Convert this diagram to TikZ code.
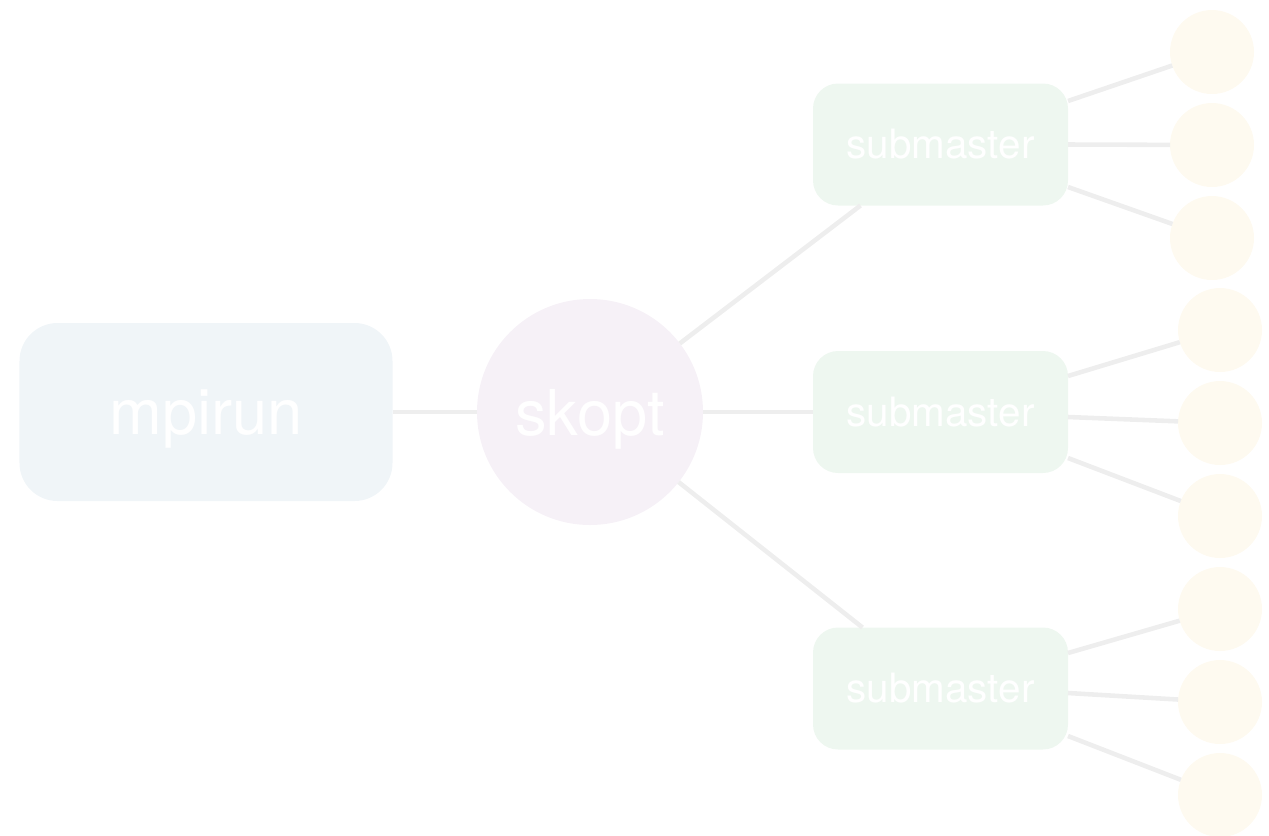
\documentclass[tikz,border=0pt]{standalone}
\usepackage{fontspec}
\setmainfont{TeX Gyre Heros}
\usepackage{tikz}
\usetikzlibrary{positioning}
\definecolor{linkgray}{HTML}{EEEEEE}
\definecolor{runblue}{HTML}{F0F5F8}
\definecolor{optpink}{HTML}{F6F1F7}
\definecolor{subgreen}{HTML}{EEF7F0}
\definecolor{workcream}{HTML}{FEFAF0}
\tikzset{
% Define standard link line
link/.style={draw=linkgray, line width=2.6pt},
subbox/.style={rectangle, fill=subgreen, rounded corners=0.5cm,
  minimum width=5.1cm, minimum height=2.44cm, text=white,
  font=\fontsize{23}{26}\selectfont},
worker/.style={circle, fill=workcream, minimum size=1.68cm}
}

\begin{document}
\begin{tikzpicture}[inner sep=0, outer sep=0]
  \useasboundingbox (0, 0) rectangle (25.38, -16.7);

  \node[rectangle,
    rounded corners=0.76cm,
    minimum height = 3.56cm,
    minimum width = 7.46cm,
    text=white, text depth=0pt,
    font=\fontsize{36}{40}\selectfont,
    fill = runblue] (mpirun) at (4.12, -8.24) {mpirun};

  \node[circle,
    minimum size = 4.52cm,
    text=white, text depth=0pt,
    font=\fontsize{36}{40}\selectfont,
    fill = optpink] (skopt) at ([xshift=7.68cm]mpirun.center) {skopt};

  \node[subbox] (sub1) at (18.81, -2.89) {submaster};
  \node[subbox] (sub2) at ([xshift=7.01cm]skopt.center) {submaster};
  \node[subbox] (sub3) at (18.81, -13.77) {submaster};

  \node[worker] (w11) at (24.24, -1.04) {};
  \node[worker] (w12) at (24.24, -2.90) {};
  \node[worker] (w13) at (24.24, -4.76) {};

  \node[worker] (w21) at (24.4, -6.6) {};
  \node[worker] (w22) at (24.4, -8.46) {};
  \node[worker] (w23) at (24.4, -10.32) {};

  \node[worker] (w31) at (24.4, -12.18) {};
  \node[worker] (w32) at (24.4, -14.04) {};
  \node[worker] (w33) at (24.4, -15.9) {};

  \draw[link] (mpirun.east) -- (skopt);
  \draw[link] (skopt) -- ([xshift=-1.6cm]sub1.south);
  \draw[link] (skopt) -- (sub2.west);
  \draw[link] (skopt) -- ([xshift=-1.56cm]sub3.north);

  \draw[link] ([yshift=0.87cm]sub1.east) -- (w11);
  \draw[link] (sub1.east) -- (w12);
  \draw[link] ([yshift=-0.85cm]sub1.east) -- (w13);

  \draw[link] ([yshift=0.72cm]sub2.east) -- (w21);
  \draw[link] ([yshift=-0.1cm]sub2.east) -- (w22);
  \draw[link] ([yshift=-0.92cm]sub2.east) -- (w23);

  \draw[link] ([yshift=0.71cm]sub3.east) -- (w31);
  \draw[link] ([yshift=-0.09cm]sub3.east) -- (w32);
  \draw[link] ([yshift=-0.95cm]sub3.east) -- (w33);
\end{tikzpicture}
\end{document}
